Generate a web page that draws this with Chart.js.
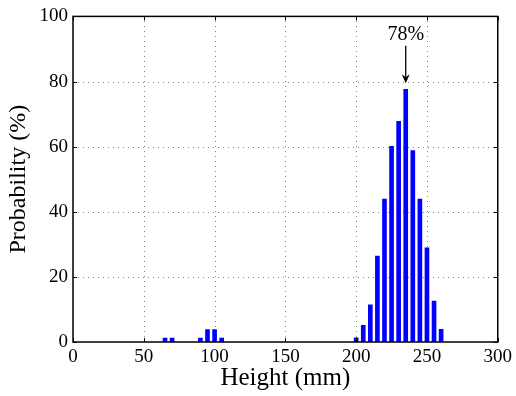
<!DOCTYPE html>
<html>
<head>
<meta charset="utf-8">
<script src="https://cdn.jsdelivr.net/npm/chart.js@4"></script>
<style>
  html, body { margin: 0; padding: 0; background: #fff; }
  #wrap { width: 516px; height: 396px; }
</style>
</head>
<body>
<div id="wrap"><canvas id="chart" width="516" height="396"></canvas></div>
<script>
// Histogram values
var heights = [65, 70, 90, 95, 100, 105, 200, 205, 210, 215, 220, 225, 230, 235, 240, 245, 250, 255, 260];
var probabilities = [1.2, 1.2, 1.2, 3.8, 3.8, 1.2, 1.3, 5.1, 11.4, 26.4, 43.9, 60.1, 67.8, 77.6, 58.8, 43.9, 28.9, 12.6, 3.9];
var xTicks = [0, 50, 100, 150, 200, 250, 300];
var yTicks = [0, 20, 40, 60, 80, 100];

var peakHeight = 235;
var peakLabel = '78%';
var peakArrowTop = 91;   // value where the arrow starts
var peakArrowTip = 79.5; // value where the arrow ends
var peakTextAt = 94.5;

var serif = '"Liberation Serif", "Times New Roman", serif';

let points = heights.map((h, i) => ({ x: h, y: probabilities[i] }));

// dotted grid, frame, inward ticks and the peak annotation
let decorations = {
    id: 'decorations',
    beforeDatasetsDraw(chart) {
        let ctx = chart.ctx;
        let area = chart.chartArea;
        let xs = chart.scales.x;
        let ys = chart.scales.y;

        ctx.save();
        ctx.strokeStyle = '#888';
        ctx.lineWidth = 1;
        ctx.setLineDash([1, 4]);
        ctx.beginPath();
        xTicks.slice(1, -1).forEach(v => {
            let px = Math.round(xs.getPixelForValue(v)) + 0.5;
            ctx.moveTo(px, area.bottom);
            ctx.lineTo(px, area.top);
        });
        yTicks.slice(1, -1).forEach(v => {
            let py = Math.round(ys.getPixelForValue(v)) + 0.5;
            ctx.moveTo(area.left, py);
            ctx.lineTo(area.right, py);
        });
        ctx.stroke();
        ctx.restore();
    },
    afterDraw(chart) {
        let ctx = chart.ctx;
        let area = chart.chartArea;
        let xs = chart.scales.x;
        let ys = chart.scales.y;

        ctx.save();
        ctx.strokeStyle = '#000';
        ctx.lineWidth = 1;
        ctx.beginPath();
        xTicks.forEach(v => {
            let px = Math.round(xs.getPixelForValue(v)) + 0.5;
            ctx.moveTo(px, area.bottom);
            ctx.lineTo(px, area.bottom - 4);
            ctx.moveTo(px, area.top);
            ctx.lineTo(px, area.top + 4);
        });
        yTicks.forEach(v => {
            let py = Math.round(ys.getPixelForValue(v)) + 0.5;
            ctx.moveTo(area.left, py);
            ctx.lineTo(area.left + 4, py);
            ctx.moveTo(area.right, py);
            ctx.lineTo(area.right - 4, py);
        });
        ctx.stroke();

        ctx.lineWidth = 1.5;
        ctx.strokeRect(area.left, area.top, area.right - area.left, area.bottom - area.top);

        // peak annotation
        let ax = xs.getPixelForValue(peakHeight);
        let y0 = ys.getPixelForValue(peakArrowTop);
        let y1 = ys.getPixelForValue(peakArrowTip);
        ctx.lineWidth = 1.3;
        ctx.beginPath();
        ctx.moveTo(ax, y0);
        ctx.lineTo(ax, y1 - 6);
        ctx.stroke();
        ctx.fillStyle = '#000';
        ctx.beginPath();
        ctx.moveTo(ax - 4, y1 - 9);
        ctx.lineTo(ax, y1);
        ctx.lineTo(ax + 4, y1 - 9);
        ctx.lineTo(ax, y1 - 6);
        ctx.closePath();
        ctx.fill();

        ctx.font = '20px ' + serif;
        ctx.textAlign = 'center';
        ctx.textBaseline = 'middle';
        ctx.fillText(peakLabel, ax, ys.getPixelForValue(peakTextAt));
        ctx.restore();
    }
};

new Chart(document.getElementById('chart'), {
    type: 'bar',
    data: {
        datasets: [{
            data: points,
            backgroundColor: '#0000ff',
            borderWidth: 0,
            barThickness: 4
        }]
    },
    options: {
        responsive: false,
        animation: false,
        layout: {
            padding: { top: 14, right: 18, left: 4, bottom: 3 }
        },
        plugins: {
            legend: { display: false },
            tooltip: { enabled: false }
        },
        scales: {
            x: {
                type: 'linear',
                min: 0,
                max: 300,
                offset: false,
                afterFit: (scale) => { scale.height = 51; },
                ticks: {
                    stepSize: 50,
                    color: '#000',
                    padding: 4,
                    font: { family: serif, size: 19 }
                },
                grid: { display: false, drawTicks: false },
                border: { display: false },
                title: {
                    display: true,
                    text: 'Height (mm)',
                    color: '#000',
                    padding: { top: 0, bottom: 0 },
                    font: { family: serif, size: 25 }
                }
            },
            y: {
                min: 0,
                max: 100,
                afterFit: (scale) => { scale.width = 69; },
                ticks: {
                    stepSize: 20,
                    color: '#000',
                    padding: 5,
                    font: { family: serif, size: 19 }
                },
                grid: { display: false, drawTicks: false },
                border: { display: false },
                title: {
                    display: true,
                    text: 'Probability (%)',
                    color: '#000',
                    padding: { top: 0, bottom: 6 },
                    font: { family: serif, size: 24 }
                }
            }
        }
    },
    plugins: [decorations]
});
</script>
</body>
</html>
